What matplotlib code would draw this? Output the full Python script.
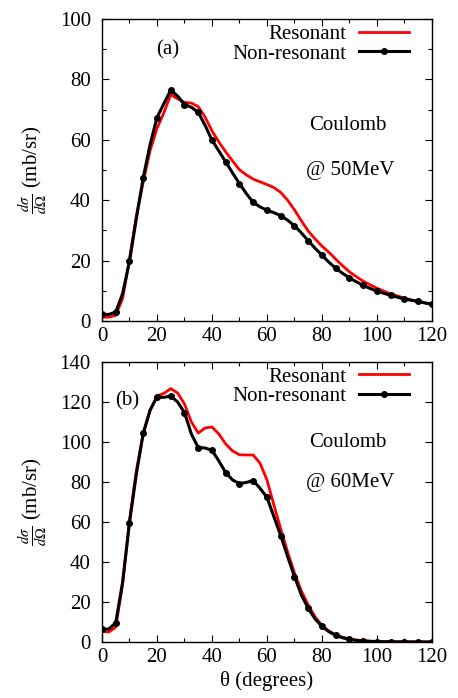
import numpy as np
import matplotlib.pyplot as plt
from matplotlib.ticker import MultipleLocator

plt.rcParams['font.family'] = ['Liberation Serif', 'DejaVu Serif']
plt.rcParams['mathtext.fontset'] = 'stix'

# angulos cada 2.5 grados
theta = np.arange(0, 120.01, 2.5)

# (a) Coulomb @ 50MeV
res_50 = [1.3, 1.3, 1.9, 7.5, 20.5, 35.0, 46.0, 56.5, 63.8, 69.0,
          75.0, 73.6, 72.4, 72.2, 71.0, 67.5, 63.0, 59.3, 56.0, 53.0,
          50.1, 48.4, 47.0, 46.1, 45.2, 44.2, 42.6, 40.0, 36.8, 33.2,
          29.8, 27.2, 24.8, 22.8, 20.5, 18.3, 16.3, 14.7, 13.2, 12.0,
          10.9, 9.9, 9.0, 8.3, 7.6, 7.0, 6.5, 6.0, 5.5]
nonres_50 = [2.2, 2.2, 3.0, 9.1, 19.8, 34.0, 47.5, 58.5, 67.4, 72.0,
             76.5, 74.5, 71.7, 70.8, 69.1, 64.8, 59.9, 56.3, 52.7, 49.0,
             45.5, 42.2, 39.3, 37.8, 36.7, 35.9, 34.9, 33.4, 31.6, 29.2,
             26.6, 24.1, 21.8, 19.5, 17.5, 15.8, 14.3, 13.0, 11.8, 10.8,
             9.9, 9.2, 8.5, 7.9, 7.3, 6.9, 6.5, 6.0, 5.6]

# (b) Coulomb @ 60MeV
res_60 = [5.3, 5.0, 7.5, 29.0, 60.8, 85.8, 104.0, 115.8, 123.0, 124.3,
          126.7, 124.5, 119.0, 110.0, 104.5, 107.0, 107.5, 104.0, 99.0, 95.5,
          93.6, 93.5, 93.5, 89.3, 81.0, 68.5, 56.5, 45.0, 34.5, 25.5,
          18.5, 12.5, 8.3, 5.5, 3.6, 2.4, 1.6, 1.0, 0.7, 0.45,
          0.3, 0.2, 0.15, 0.12, 0.1, 0.08, 0.06, 0.05, 0.05]
nonres_60 = [6.3, 6.5, 9.7, 30.0, 59.7, 84.0, 104.5, 116.0, 122.5, 122.3,
             123.0, 120.0, 114.7, 104.0, 97.2, 97.0, 95.8, 90.5, 84.7, 81.0,
             79.2, 79.8, 80.7, 76.8, 72.3, 62.7, 53.2, 42.7, 32.7, 23.5,
             16.8, 11.5, 7.8, 5.2, 3.3, 2.1, 1.3, 0.8, 0.5, 0.3,
             0.2, 0.15, 0.1, 0.08, 0.05, 0.04, 0.03, 0.02, 0.02]

panels = [
    ("(a)", "@ 50MeV", res_50, nonres_50, 100, 20, 10,
     (0.2, 0.897), (0.745, 0.649), (0.752, 0.50)),
    ("(b)", "@ 60MeV", res_60, nonres_60, 140, 20, None,
     (0.076, 0.861), (0.745, 0.714), (0.752, 0.571)),
]

fig = plt.figure(figsize=(4.58, 6.98), dpi=100)
rects = [[0.2227, 0.540, 0.7205, 0.4327], [0.2227, 0.0802, 0.7205, 0.4012]]

for rect, (tag, energia, res, nonres, ymax, ymaj, ymin_step,
           pos_tag, pos_c, pos_e) in zip(rects, panels):
    ax = fig.add_axes(rect)
    ax.plot(theta, res, color='#ff0000', lw=2.0, label='Resonant')
    ax.plot(theta, nonres, color='black', lw=2.2, marker='o', markersize=4,
            markevery=2, label='Non-resonant')

    ax.set_xlim(0, 120)
    ax.set_ylim(0, ymax)
    ax.xaxis.set_major_locator(MultipleLocator(20))
    ax.xaxis.set_minor_locator(MultipleLocator(10))
    ax.yaxis.set_major_locator(MultipleLocator(ymaj))
    if ymin_step:
        ax.yaxis.set_minor_locator(MultipleLocator(ymin_step))
    ax.tick_params(which='both', direction='in', top=True, right=True,
                   labelsize=15)
    ax.tick_params(axis='x', pad=4)
    ax.tick_params(axis='y', pad=8)
    ax.tick_params(which='major', length=5, width=0.8)
    ax.tick_params(which='minor', length=3, width=0.8)
    for s in ax.spines.values():
        s.set_linewidth(1.0)

    ax.set_ylabel(r'$\frac{d\sigma}{d\Omega}$ (mb/sr)', fontsize=15)
    ax.yaxis.set_label_coords(-0.16, 0.5)

    ax.text(*pos_tag, tag, transform=ax.transAxes, fontsize=15,
            ha='center', va='center')
    ax.text(*pos_c, "Coulomb", transform=ax.transAxes, fontsize=15,
            ha='center', va='center')
    ax.text(*pos_e, energia, transform=ax.transAxes, fontsize=15,
            ha='center', va='center')

    ax.legend(loc='upper right', bbox_to_anchor=(0.93, 0.982), frameon=False,
              markerfirst=False, fontsize=15, handlelength=2.4,
              handletextpad=0.6, labelspacing=0.0, borderpad=0,
              borderaxespad=0)

ax.set_xlabel(r'θ (degrees)', fontsize=15, labelpad=3)

fig.savefig('out.png', dpi=100)
